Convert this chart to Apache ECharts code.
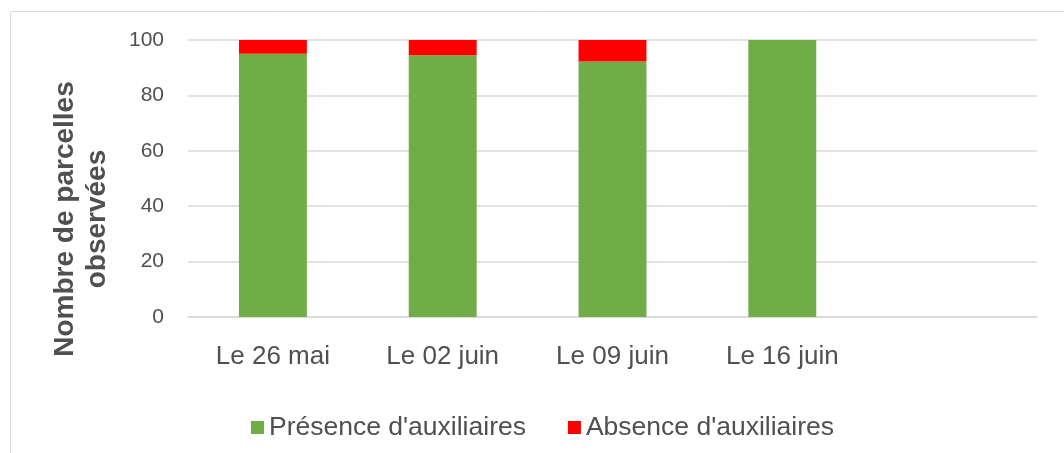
<!DOCTYPE html>
<html>
<head>
<meta charset="utf-8">
<script src="https://cdn.jsdelivr.net/npm/echarts@6/dist/echarts.min.js"></script>
<style>
  html, body { margin: 0; padding: 0; background: #fff; }
  #chart { width: 1064px; height: 453px; }
</style>
</head>
<body>
<div id="chart"></div>
<script>
// dates d'observation (la 5e case est vide dans l'original)
const categories = ["Le 26 mai", "Le 02 juin", "Le 09 juin", "Le 16 juin", ""];
const presence = [95, 94.5, 92.2, 100, null];
const absence = [5, 5.5, 7.8, 0, null];
const yTicks = [0, 20, 40, 60, 80, 100];

const textColor = "#505050";
const gridColor = "#d9d9d9";

const chart = echarts.init(document.getElementById("chart"));

chart.setOption({
  animation: false,
  grid: { left: 188, right: 27, top: 40, bottom: 136, containLabel: false },
  graphic: [
    {
      type: "rect",
      shape: { x: 10.5, y: 11.5, width: 1070, height: 460 },
      style: { fill: "none", stroke: gridColor, lineWidth: 1 },
      silent: true
    },
    {
      type: "text",
      x: 81,
      y: 219,
      rotation: Math.PI / 2,
      style: {
        text: "Nombre de parcelles\nobservées",
        fill: textColor,
        font: "bold 28px 'Liberation Sans', Arial, sans-serif",
        lineHeight: 32,
        align: "center",
        verticalAlign: "middle"
      },
      silent: true
    }
  ],
  legend: {
    left: 246,
    top: 409,
    itemWidth: 13,
    itemHeight: 13,
    itemGap: 42,
    icon: "rect",
    textStyle: {
      color: textColor,
      fontSize: 26.5,
      fontFamily: "'Liberation Sans', Arial, sans-serif",
      padding: [0, 0, 0, 0]
    },
    data: ["Présence d'auxiliaires", "Absence d'auxiliaires"]
  },
  xAxis: {
    type: "category",
    data: categories,
    axisLine: { lineStyle: { color: gridColor, width: 1.5 } },
    axisTick: { show: false },
    axisLabel: {
      color: textColor,
      fontSize: 26,
      fontFamily: "'Liberation Sans', Arial, sans-serif",
      margin: 27,
      interval: 0
    }
  },
  yAxis: {
    type: "value",
    min: yTicks[0],
    max: yTicks[yTicks.length - 1],
    interval: 20,
    axisLine: { show: false },
    axisTick: { show: false },
    splitLine: { lineStyle: { color: gridColor, width: 1.5 } },
    axisLabel: {
      color: textColor,
      fontSize: 21,
      fontFamily: "'Liberation Sans', Arial, sans-serif",
      margin: 24
    }
  },
  series: [
    {
      name: "Présence d'auxiliaires",
      type: "bar",
      stack: "total",
      barWidth: "40%",
      itemStyle: { color: "#70ad47" },
      data: presence
    },
    {
      name: "Absence d'auxiliaires",
      type: "bar",
      stack: "total",
      barWidth: "40%",
      itemStyle: { color: "#ff0000" },
      data: absence
    }
  ]
});
</script>
</body>
</html>
